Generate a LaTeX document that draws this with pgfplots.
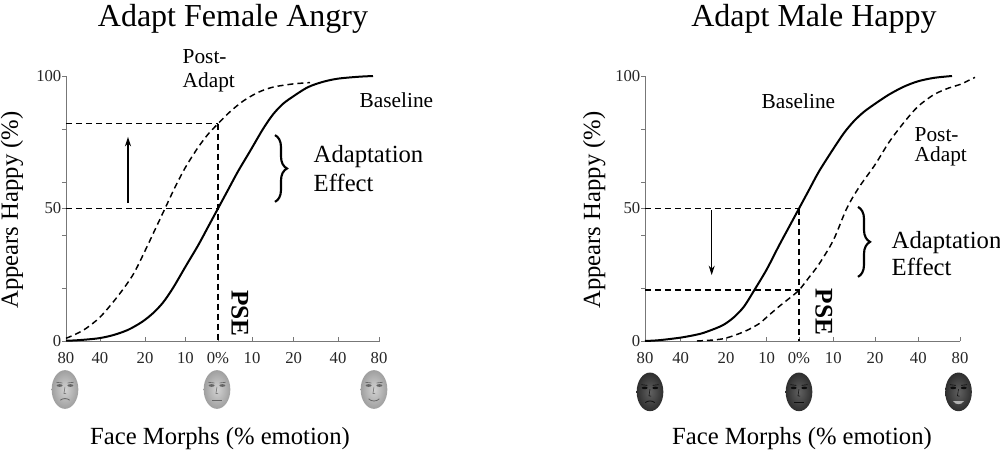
\documentclass[border=0pt]{standalone}
\usepackage{pgfplots}
\pgfplotsset{compat=1.18}
\usepackage{fontspec}
\setmainfont{Liberation Serif}
\usetikzlibrary{arrows.meta,decorations.pathreplacing}

\definecolor{axgray}{HTML}{777777}

% #1 x, #2 y (axis cs), #3 inner, #4 outer, #5 feature colour
\newcommand{\face}[5]{%
  \shade[inner color=#3, outer color=#4] (axis cs:#1,#2) ellipse [x radius=10pt, y radius=14.5pt];
  \fill[#5] (axis cs:#1,#2) ++(-4pt,3pt) ellipse [x radius=2.2pt, y radius=1pt];
  \fill[#5] (axis cs:#1,#2) ++(4pt,3pt) ellipse [x radius=2.2pt, y radius=1pt];
  \draw[#5, line width=0.5pt] (axis cs:#1,#2) ++(-6.5pt,5.4pt) -- ++(4.5pt,-0.5pt);
  \draw[#5, line width=0.5pt] (axis cs:#1,#2) ++(6.5pt,5.4pt) -- ++(-4.5pt,-0.5pt);
  \draw[#5, line width=0.4pt] (axis cs:#1,#2) ++(0pt,2pt) -- ++(-0.8pt,-5pt) -- ++(1.6pt,-0.2pt);}

\pgfplotsset{
  panel/.style={
    scale only axis, height=198.75pt,
    ymin=0, ymax=100, clip=false,
    axis x line=bottom, axis y line=left,
    axis line style={-, axgray, line width=0.6pt},
    tick style={axgray, line width=0.6pt},
    tick align=inside, major tick length=3pt,
    major y tick style={xshift=-3pt},
    ytick={0,20,40,50,60,80,100},
    yticklabels={0,{},{},50,{},{},100},
    xticklabels={80,40,20,10,0\%,10,20,40,80},
    tick label style={font=\fontsize{12.5}{14}\selectfont, text=black!85},
    xticklabel style={yshift=-5pt},
    /pgf/number format/assume math mode=true,
  },
  basecurve/.style={black, line width=1.5pt, smooth, no markers},
  postcurve/.style={black, line width=1.1pt, dash pattern=on 4.5pt off 3pt, smooth, no markers},
  guide/.style={black, line width=1.1pt, dash pattern=on 4.5pt off 3pt, no markers},
}

\begin{document}
\begin{tikzpicture}

% ---------------- Left panel ----------------
\begin{axis}[panel, at={(49.5pt,84.75pt)}, anchor=south west, width=235.5pt,
  xmin=-152, xmax=162,
  xtick={-152,-118,-73,-32.6,0,34,75.7,120,161}]

\addplot[guide] coordinates {(-152,82) (0,82)};
\addplot[guide] coordinates {(-152,50) (0,50)};
\addplot[guide] coordinates {(0,82) (0,0)};

\addplot[basecurve] coordinates {
(-152,0.1) (-140,0.3) (-120,1) (-105,2.2) (-90,4.2) (-76,7.2) (-65,10.5) (-55,14.5)
(-45,20) (-32.6,28) (-20,36) (-10,43) (0,50) (10,57) (20,64) (32.6,72) (45,80)
(55,85.5) (65,89.5) (76,92.5) (90,95.8) (105,97.8) (120,99) (140,99.7) (155,100)};

\addplot[postcurve] coordinates {
(-152,1) (-135,4) (-118,9) (-100,17) (-85,25) (-73,34) (-63,42) (-53,50) (-43,58)
(-32.6,65.5) (-20,73) (-10,78) (0,82) (12,86.5) (25,90.5) (40,93.8) (55,95.8)
(75,97) (92,97.5)};

\draw[black, line width=0.8pt, -{Stealth[length=7pt,width=4.5pt]}] (axis cs:-90,52) -- (axis cs:-90,77);
\draw[black, line width=1.6pt, decorate, decoration={brace, amplitude=9pt}]
  (axis cs:57,77.7) -- (axis cs:57,52.5);

\node[anchor=base west, font=\fontsize{18.5}{22}\selectfont] at (axis cs:91,67.2) {Adaptation};
\node[anchor=base west, font=\fontsize{18.5}{22}\selectfont] at (axis cs:91,56.6) {Effect};
\node[anchor=base west, font=\fontsize{16}{19}\selectfont] at (axis cs:137,88.3) {Baseline};
\node[anchor=base west, font=\fontsize{16}{19}\selectfont] at (axis cs:-40,104.9) {Post-};
\node[anchor=base west, font=\fontsize{16}{19}\selectfont] at (axis cs:-40,95.5) {Adapt};
\node[rotate=-90, font=\fontsize{19}{22}\selectfont\bfseries] at (axis cs:22,10.4) {PSE};

\node[anchor=base, font=\fontsize{24}{28}\selectfont] at (axis cs:15,118.5) {Adapt Female Angry};
\node[anchor=base, font=\fontsize{18.5}{22}\selectfont] at (axis cs:2,-39.2) {Face Morphs (\% emotion)};
\node[anchor=base, rotate=90, font=\fontsize{18.5}{22}\selectfont] at (axis cs:-200,49.4) {Appears Happy (\%)};

\face{-153}{-18.3}{gray!35}{gray!75}{black!60}
\draw[black!60, line width=0.6pt] (axis cs:-153,-18.3) ++(-3.5pt,-8pt) .. controls +(2pt,1.6pt) and +(-2pt,1.6pt) .. ++(7pt,0pt);
\face{-1}{-18.3}{gray!35}{gray!75}{black!60}
\draw[black!60, line width=0.6pt] (axis cs:-1,-18.3) ++(-3.5pt,-8pt) -- ++(7pt,0pt);
\face{156}{-18.3}{gray!35}{gray!75}{black!60}
\draw[black!60, line width=0.6pt] (axis cs:156,-18.3) ++(-4pt,-7pt) .. controls +(2pt,-2.2pt) and +(-2pt,-2.2pt) .. ++(8pt,0pt);
\end{axis}

% ---------------- Right panel ----------------
\begin{axis}[panel, at={(483.75pt,84.75pt)}, anchor=south west, width=236.25pt,
  xmin=-154, xmax=161,
  xtick={-154,-118.3,-73,-32.3,0,34.3,76,119.3,161}]

\addplot[guide] coordinates {(-154,50) (0,50)};
\addplot[guide] coordinates {(-154,19.2) (0,19.2)};
\addplot[guide] coordinates {(0,50) (0,0)};

\addplot[basecurve] coordinates {
(-154,0) (-140,0.3) (-118,1.3) (-100,2.6) (-90,3.8) (-76,6) (-65,9) (-55,13)
(-45,19) (-32.3,27) (-20,36) (-10,43) (0,50) (10,57) (20,64) (34.3,72.5) (45,78.5)
(55,83) (65,86.5) (76,89.5) (90,93) (105,96) (119,98) (135,99.3) (153,100)};

\addplot[postcurve] coordinates {
(-102,0) (-85,0.4) (-73,1.1) (-55,3.5) (-40,6.5) (-32.3,9) (-20,13) (-10,16) (0,19.2)
(10,24) (20,29) (34.3,38) (47.7,50) (60,58) (76,66.5) (90,75) (105,82.5) (119,88.5)
(135,93) (150,95.5) (161,96.8) (176,99.5)};

\draw[black, line width=0.8pt, -{Stealth[length=7pt,width=4.5pt]}] (axis cs:-87.3,49.4) -- (axis cs:-87.3,24.9);
\draw[black, line width=1.6pt, decorate, decoration={brace, amplitude=9pt}]
  (axis cs:59,50.6) -- (axis cs:59,24.2);

\node[anchor=base west, font=\fontsize{18.5}{22}\selectfont] at (axis cs:88,34.9) {Adaptation};
\node[anchor=base west, font=\fontsize{18.5}{22}\selectfont] at (axis cs:88,24.9) {Effect};
\node[anchor=base west, font=\fontsize{16}{19}\selectfont] at (axis cs:-42,87.9) {Baseline};
\node[anchor=base west, font=\fontsize{16}{19}\selectfont] at (axis cs:111,75.2) {Post-};
\node[anchor=base west, font=\fontsize{16}{19}\selectfont] at (axis cs:111,67.7) {Adapt};
\node[rotate=-90, font=\fontsize{19}{22}\selectfont\bfseries] at (axis cs:25,11) {PSE};

\node[anchor=base, font=\fontsize{24}{28}\selectfont] at (axis cs:15,118.5) {Adapt Male Happy};
\node[anchor=base, font=\fontsize{18.5}{22}\selectfont] at (axis cs:3,-39.2) {Face Morphs (\% emotion)};
\node[anchor=base, rotate=90, font=\fontsize{18.5}{22}\selectfont] at (axis cs:-199,49.4) {Appears Happy (\%)};

\face{-149}{-19.2}{black!62}{black!82}{black!95}
\draw[black!95, line width=0.6pt] (axis cs:-149,-19.2) ++(-3.5pt,-8pt) .. controls +(2pt,1.6pt) and +(-2pt,1.6pt) .. ++(7pt,0pt);
\face{0}{-19.2}{black!62}{black!82}{black!95}
\draw[black!95, line width=0.6pt] (axis cs:0,-19.2) ++(-3.5pt,-8pt) -- ++(7pt,0pt);
\face{159.5}{-19.2}{black!62}{black!82}{black!95}
\fill[gray!60] (axis cs:159.5,-19.2) ++(-4pt,-7pt) .. controls +(2pt,-3pt) and +(-2pt,-3pt) .. ++(8pt,0pt) -- cycle;
\end{axis}

\pgfresetboundingbox
\path (0,0) rectangle (750pt,340.5pt);
\end{tikzpicture}
\end{document}
